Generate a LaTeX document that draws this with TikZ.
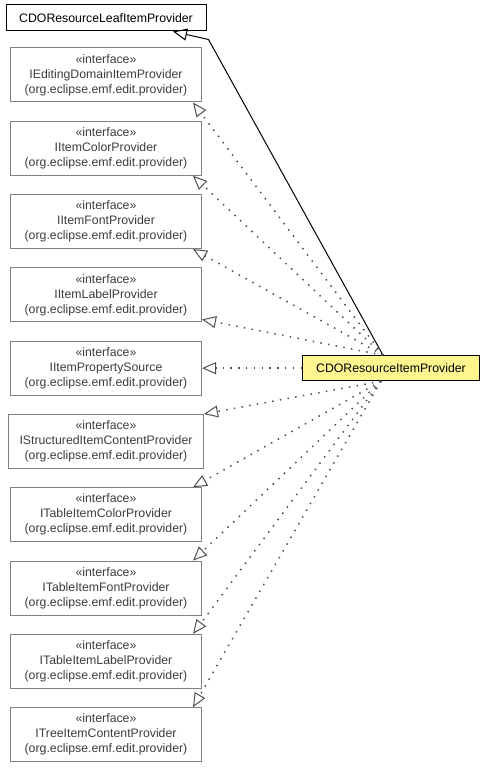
\documentclass[tikz,border=0pt]{standalone}
\usepackage{fontspec}
\setmainfont{Liberation Sans}
\usepackage{tikz}
\usetikzlibrary{arrows.meta,positioning,calc}

\definecolor{ifaceline}{HTML}{808080}
\definecolor{ifacetext}{HTML}{3C3C3C}
\definecolor{implfill}{HTML}{FFF58F}
\definecolor{dotgray}{HTML}{505050}

\begin{document}
\begin{tikzpicture}[
  x=1pt, y=1pt,
  node distance=18.3pt,
  iface/.style={rectangle, draw=ifaceline, line width=1pt, text=ifacetext,
                align=center, minimum width=191pt, minimum height=54pt,
                inner xsep=11pt, font=\fontsize{12.3}{15}\selectfont},
  leafbox/.style={rectangle, draw=black, line width=1pt, minimum width=200pt,
                  minimum height=26pt, font=\fontsize{12.3}{15}\selectfont},
  implbox/.style={rectangle, draw=black, line width=1pt, fill=implfill,
                  minimum width=177pt, minimum height=25pt,
                  font=\fontsize{12.3}{15}\selectfont},
  realize/.style={-{Triangle[open, length=14pt, width=12pt, line width=1pt]},
                  draw=dotgray, line width=1.5pt, dash pattern=on 1.5pt off 6.3pt},
  inherit/.style={-{Triangle[open, length=14pt, width=12pt, line width=1pt]},
                  line width=1pt},
]
  \useasboundingbox (0,0) rectangle (485,768);

  % Superclass on top
  \node[leafbox] (leaf) at (106,750) {CDOResourceLeafItemProvider};

  % Column of interfaces
  \node[iface, below=16pt of leaf] (i1) {«interface»\\IEditingDomainItemProvider\\(org.eclipse.emf.edit.provider)};
  \node[iface, below=of i1] (i2) {«interface»\\IItemColorProvider\\(org.eclipse.emf.edit.provider)};
  \node[iface, below=of i2] (i3) {«interface»\\IItemFontProvider\\(org.eclipse.emf.edit.provider)};
  \node[iface, below=of i3] (i4) {«interface»\\IItemLabelProvider\\(org.eclipse.emf.edit.provider)};
  \node[iface, below=of i4] (i5) {«interface»\\IItemPropertySource\\(org.eclipse.emf.edit.provider)};
  \node[iface, below=of i5] (i6) {«interface»\\IStructuredItemContentProvider\\(org.eclipse.emf.edit.provider)};
  \node[iface, below=of i6] (i7) {«interface»\\ITableItemColorProvider\\(org.eclipse.emf.edit.provider)};
  \node[iface, below=of i7] (i8) {«interface»\\ITableItemFontProvider\\(org.eclipse.emf.edit.provider)};
  \node[iface, below=of i8] (i9) {«interface»\\ITableItemLabelProvider\\(org.eclipse.emf.edit.provider)};
  \node[iface, below=of i9] (i10) {«interface»\\ITreeItemContentProvider\\(org.eclipse.emf.edit.provider)};

  % The implementing class
  \node[implbox, right=100pt of i5] (impl) {CDOResourceItemProvider};
  \coordinate (implTop) at ($(impl.north)+(-8pt,0)$);
  \coordinate (implBot) at ($(impl.south)+(-10pt,0)$);

  % Generalization
  \draw[inherit] (implTop) -- ($(leaf.south east)+(2pt,-8pt)$) -- ($(leaf.south)+(67pt,0)$);

  % Realizations
  \draw[realize] (implTop) -- ($(i1.south east)+(-9pt,0)$);
  \draw[realize] (implTop) -- ($(i2.south east)+(-9pt,0)$);
  \draw[realize] (implTop) -- ($(i3.south east)+(-9pt,0)$);
  \draw[realize] (implTop) -- ($(i4.south east)+(0,3pt)$);
  \draw[realize] (impl.west) -- (i5.east);
  \draw[realize] (implBot) -- (i6.north east);
  \draw[realize] (implBot) -- ($(i7.north east)+(-9pt,0)$);
  \draw[realize] (implBot) -- ($(i8.north east)+(-9pt,0)$);
  \draw[realize] (implBot) -- ($(i9.north east)+(-9pt,0)$);
  \draw[realize] (implBot) -- ($(i10.north east)+(-9pt,0)$);
\end{tikzpicture}
\end{document}
